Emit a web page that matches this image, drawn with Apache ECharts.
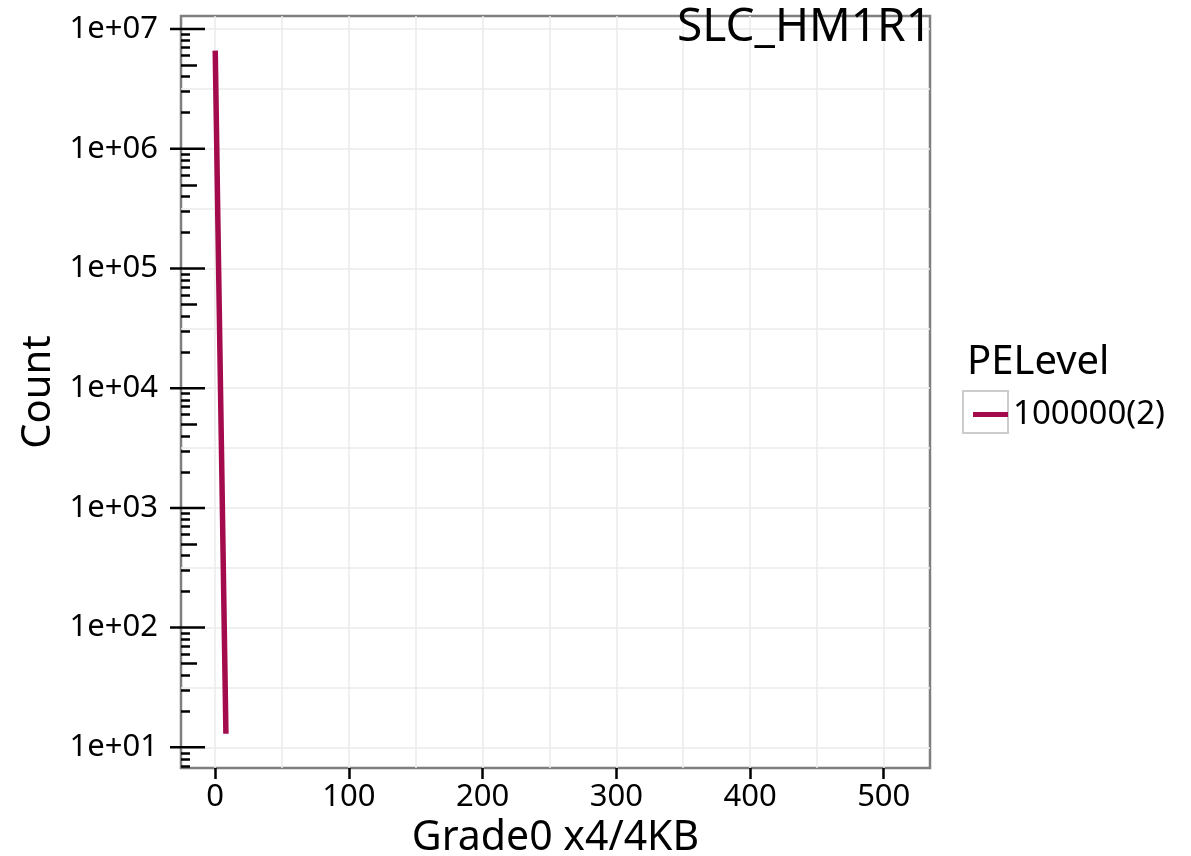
<!DOCTYPE html>
<html>
<head>
<meta charset="utf-8">
<script src="https://cdn.jsdelivr.net/npm/echarts@6/dist/echarts.min.js"></script>
<style>
html,body{margin:0;padding:0;background:#fff;}
#chart{width:1191px;height:856px;}
</style>
</head>
<body>
<div id="chart"></div>
<script>
// ---- data ----
const seriesName = '100000(2)';
const xValues = [0, 1, 2, 3, 4, 5, 6, 7, 8];
const countValues = [6.6e6, 1.3e6, 2.4e5, 4.7e4, 9.0e3, 1.8e3, 340, 66, 13];

// ---- axis ticks / labels ----
const xMajorTicks = [0, 100, 200, 300, 400, 500];
const xMinorGrid = [50, 150, 250, 350, 450];
const yMajorTicks = [1e1, 1e2, 1e3, 1e4, 1e5, 1e6, 1e7];
const yTickLabels = ['1e+01', '1e+02', '1e+03', '1e+04', '1e+05', '1e+06', '1e+07'];
const yMinorGrid = [31.6227766, 316.227766, 3162.27766, 31622.7766, 316227.766, 3162277.66];
const yLogTicksShort = [7, 8, 9,
  20, 30, 40, 60, 70, 80, 90,
  200, 300, 400, 600, 700, 800, 900,
  2000, 3000, 4000, 6000, 7000, 8000, 9000,
  20000, 30000, 40000, 60000, 70000, 80000, 90000,
  200000, 300000, 400000, 600000, 700000, 800000, 900000,
  2000000, 3000000, 4000000, 6000000, 7000000, 8000000, 9000000];
const yLogTicksMid = [50, 500, 5000, 50000, 500000, 5000000];

const FONT = 'Noto Sans';
const LINE_COLOR = '#a30b4c';
const GRID_COLOR = '#ebebeb';
const X_MIN = -25.6, X_MAX = 534.6;
const Y_MIN = 6.72, Y_MAX = 1.285e7;

const chart = echarts.init(document.getElementById('chart'), null, {renderer: 'canvas'});

function baseY(extra) {
  return Object.assign({
    type: 'log', logBase: 10, min: Y_MIN, max: Y_MAX, position: 'left', offset: 0,
    axisLine: {show: false},
    axisLabel: {show: false},
    axisTick: {show: false},
    splitLine: {show: false},
    minorTick: {show: false},
    minorSplitLine: {show: false}
  }, extra);
}
function baseX(extra) {
  return Object.assign({
    type: 'value', min: X_MIN, max: X_MAX, position: 'bottom', offset: 0,
    axisLine: {show: false},
    axisLabel: {show: false},
    axisTick: {show: false},
    splitLine: {show: false}
  }, extra);
}

const option = {
  animation: false,
  backgroundColor: '#ffffff',
  title: [
    {text: 'SLC_HM1R1', right: 254, top: 0,
     textStyle: {fontFamily: FONT, fontSize: 46, fontWeight: 'normal', color: '#000'}},
    {text: 'PELevel', left: 962, top: 338,
     textStyle: {fontFamily: FONT, fontSize: 40, fontWeight: 'normal', color: '#000'}}
  ],
  grid: {left: 181, top: 16, right: 261, bottom: 88, show: true,
         outerBoundsMode: 'none',
         borderColor: '#7f7f7f', borderWidth: 2.5, backgroundColor: '#fff', containLabel: false},
  graphic: [
    {type: 'rect', z: 1, shape: {x: 963, y: 391, width: 45, height: 42},
     style: {fill: '#fff', stroke: '#cccccc', lineWidth: 2}}
  ],
  legend: {
    z: 10,
    left: 968, top: 393,
    icon: 'rect', itemWidth: 35, itemHeight: 5,
    textStyle: {fontFamily: FONT, fontSize: 33, color: '#000'},
    data: [{name: seriesName, itemStyle: {color: LINE_COLOR}}]
  },
  xAxis: [
    baseX({
      axisTick: {show: true, customValues: xMajorTicks, length: 11, inside: false,
                 lineStyle: {color: '#000', width: 2.5}},
      axisLabel: {show: true, customValues: xMajorTicks, margin: 14,
                  fontFamily: FONT, fontSize: 31, color: '#000'},
      splitLine: {show: true, lineStyle: {color: GRID_COLOR, width: 1.5}},
      name: 'Grade0 x4/4KB', nameLocation: 'middle', nameGap: 42,
      nameTextStyle: {fontFamily: FONT, fontSize: 41, color: '#000'}
    }),
    baseX({
      axisTick: {show: false, customValues: xMinorGrid},
      splitLine: {show: true, lineStyle: {color: GRID_COLOR, width: 1.5}}
    })
  ],
  yAxis: [
    baseY({
      axisTick: {show: false, customValues: yMajorTicks},
      axisLabel: {show: true, customValues: yMajorTicks, margin: 23,
                  fontFamily: FONT, fontSize: 31, color: '#000',
                  formatter: function (v) {
                    const i = yMajorTicks.findIndex(t => Math.abs(Math.log10(t) - Math.log10(v)) < 1e-6);
                    return i >= 0 ? yTickLabels[i] : '';
                  }},
      splitLine: {show: true, lineStyle: {color: GRID_COLOR, width: 1.5}},
      name: 'Count', nameLocation: 'middle', nameGap: 118,
      nameTextStyle: {fontFamily: FONT, fontSize: 40, color: '#000'}
    }),
    baseY({
      axisTick: {show: false, customValues: yMinorGrid},
      splitLine: {show: true, lineStyle: {color: GRID_COLOR, width: 1.5}}
    }),
    baseY({
      axisTick: {show: true, customValues: yLogTicksShort, length: 9, inside: true,
                 lineStyle: {color: '#000', width: 2.5}}
    }),
    baseY({
      axisTick: {show: true, customValues: yLogTicksMid, length: 16, inside: true,
                 lineStyle: {color: '#000', width: 2.5}}
    })
  ],
  series: [{
    name: seriesName,
    type: 'line',
    xAxisIndex: 0, yAxisIndex: 0,
    data: xValues.map((x, i) => [x, countValues[i]]),
    showSymbol: false, symbol: 'none',
    lineStyle: {color: LINE_COLOR, width: 5.5, cap: 'butt'},
    itemStyle: {color: LINE_COLOR},
    z: 5
  }, {
    name: 'majorTicks',
    type: 'custom',
    xAxisIndex: 0, yAxisIndex: 0,
    clip: false, silent: true, z: 6,
    data: yMajorTicks.map(v => [X_MIN, v]),
    renderItem: function (params, api) {
      const p = api.coord([api.value(0), api.value(1)]);
      return {type: 'line', shape: {x1: p[0] - 11, y1: p[1], x2: p[0] + 24, y2: p[1]},
              style: {stroke: '#000', lineWidth: 2.5}};
    }
  }]
};
chart.setOption(option);
</script>
</body>
</html>
